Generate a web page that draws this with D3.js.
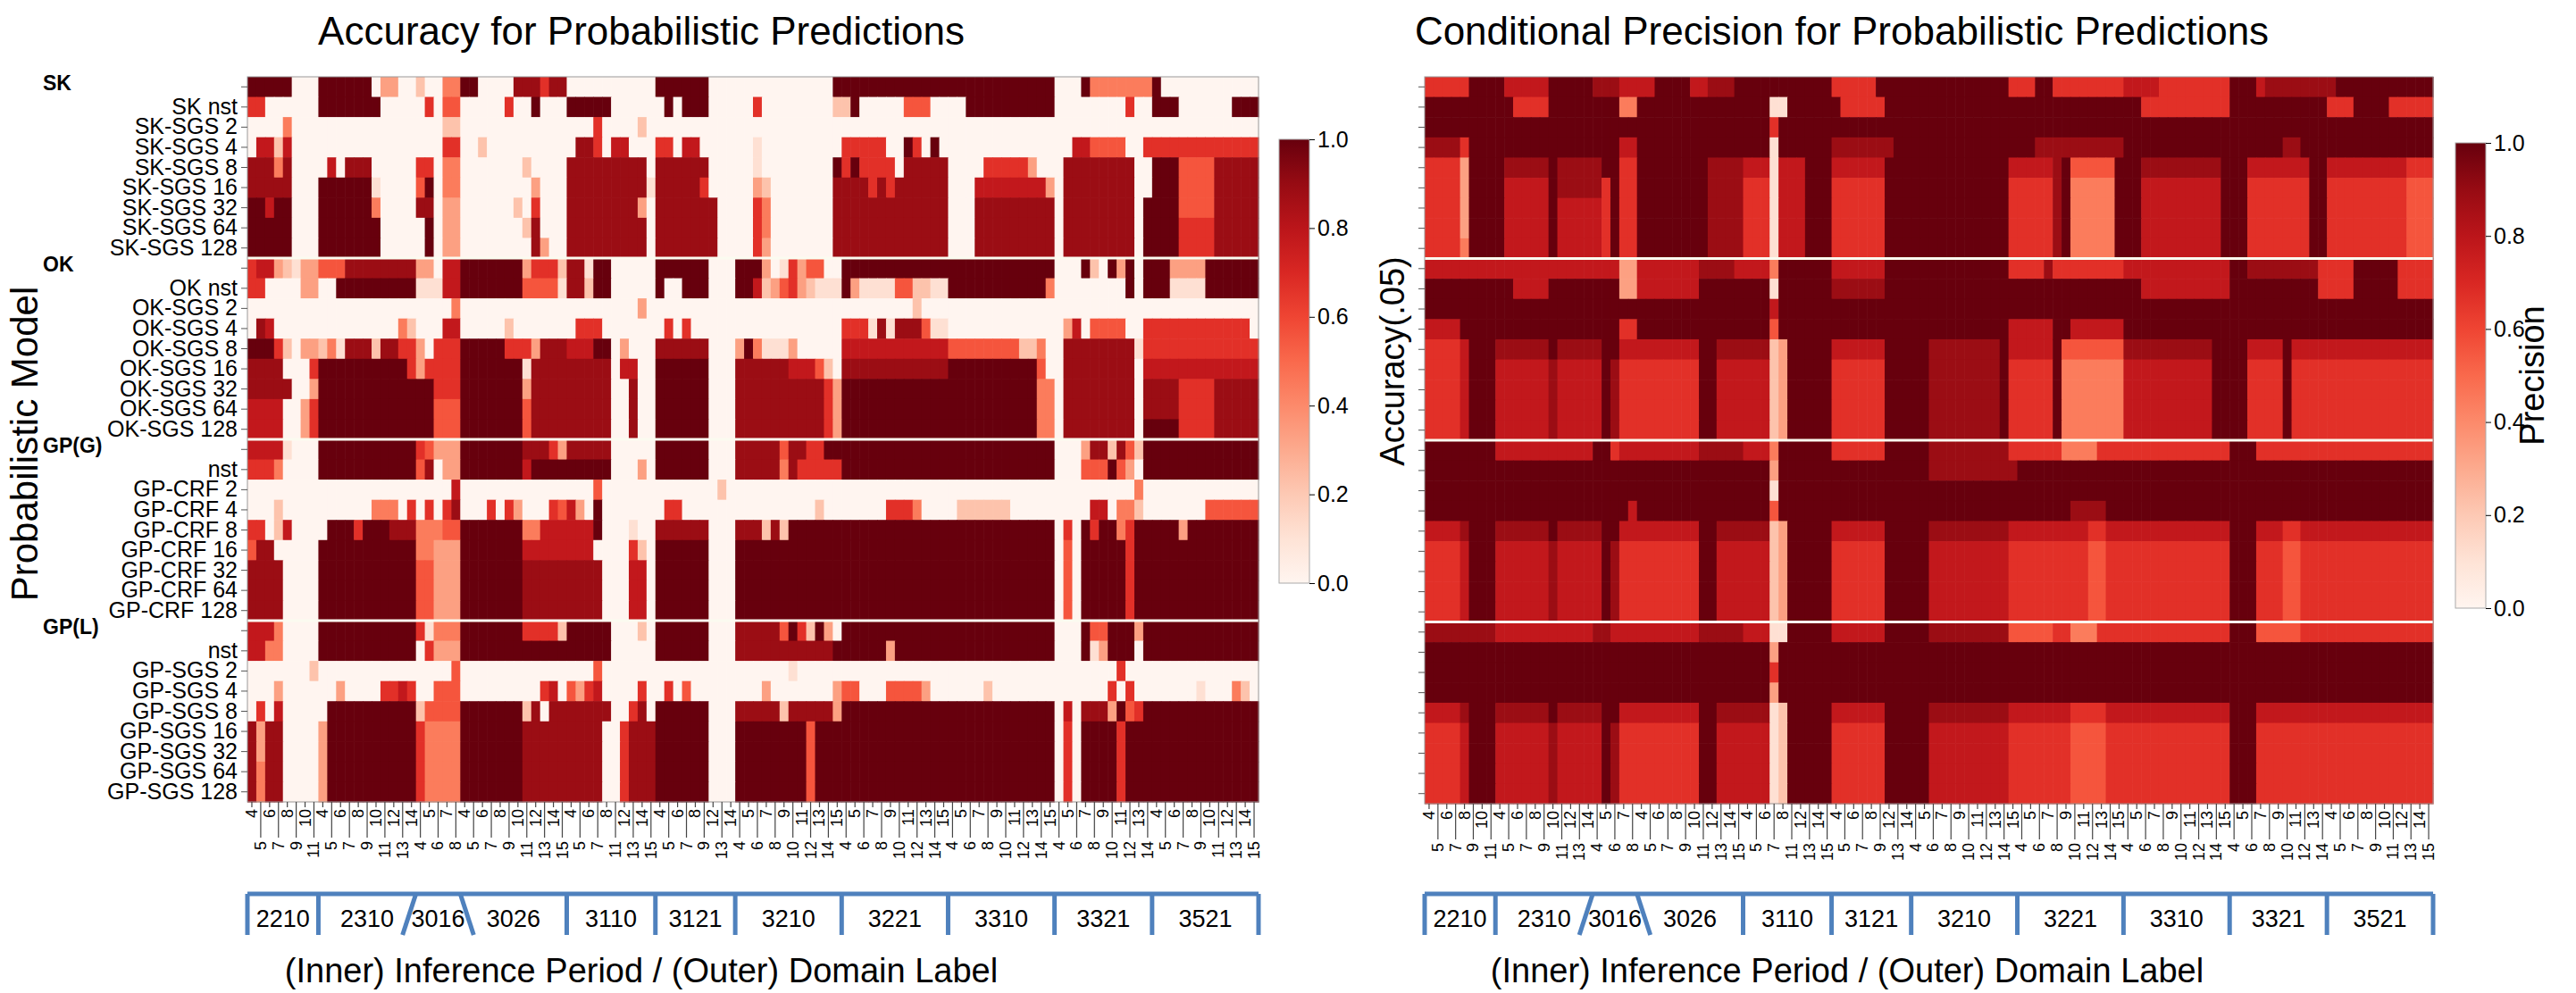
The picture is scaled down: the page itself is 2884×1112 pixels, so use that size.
<!DOCTYPE html>
<html><head><meta charset="utf-8">
<script src="https://cdn.jsdelivr.net/npm/d3@7"></script>
<style>body{margin:0;background:#fff}text{font-family:"Liberation Sans",Arial,sans-serif}</style>
</head><body><svg id="c" width="2884" height="1112"></svg>
<script>
// ---- data ----
const domains = ["2210","2310","3016","3026","3110","3121","3210","3221","3310","3321","3521"];
const periods = [
 [4,5,6,7,8,9,10,11],
 [4,5,6,7,8,9,10,11,12,13,14],
 [4,5,6,7,8],
 [4,5,6,7,8,9,10,11,12,13,14,15],
 [4,5,6,7,8,11,12,13,14,15],
 [4,5,6,7,8,9,12,13,14],
 [4,5,6,7,8,9,10,11,12,13,14,15],
 [4,5,6,7,8,9,10,11,12,13,14,15],
 [4,5,6,7,8,9,10,11,12,13,14,15],
 [4,5,6,7,8,9,10,11,12,13,14],
 [4,5,6,7,8,9,10,11,12,13,14,15]
];
const groups = ["SK","OK","GP(G)","GP(L)"];
const rowLabels = [
 "","SK nst","SK-SGS 2","SK-SGS 4","SK-SGS 8","SK-SGS 16","SK-SGS 32","SK-SGS 64","SK-SGS 128",
 "","OK nst","OK-SGS 2","OK-SGS 4","OK-SGS 8","OK-SGS 16","OK-SGS 32","OK-SGS 64","OK-SGS 128",
 "","nst","GP-CRF 2","GP-CRF 4","GP-CRF 8","GP-CRF 16","GP-CRF 32","GP-CRF 64","GP-CRF 128",
 "","nst","GP-SGS 2","GP-SGS 4","GP-SGS 8","GP-SGS 16","GP-SGS 32","GP-SGS 64","GP-SGS 128"
];
const colorTicks = [0,0.2,0.4,0.6,0.8,1.0];
// accuracy rows: runs "col-col:level" (level 0..9 -> 0..1), default 0
const accuracyRuns = [
 "0-4:9 8-13:9 15-16:3 19:2 22-23:4 24-25:9 30-35:8 33:6 46-51:9 66-90:9 94:9 95-101:4 102:9",
 "0-1:6 8-14:9 20:6 22-23:5 29:6 32:9 36-40:9 47:9 49-51:9 57:6 66-67:2 68:9 74-76:5 81-90:9 99:6 102-104:9 111-113:9",
 "4:4 22-23:2 39:6 44:2",
 "1-2:7 3:2 4:7 22-23:6 26:2 37-38:8 39:6 41-42:7 46-47:6 49-50:7 57:1 67-71:6 74:9 75:6 77:9 93-94:7 95-98:5 101-113:6",
 "0-4:8 3:4 9:7 11-13:8 19-20:6 22-23:4 31:2 36-44:8 46-51:8 57:1 66:9 67:6 68:9 69-72:6 74-78:8 83-87:6 88:3 92-99:8 102-104:9 105-108:5 109-113:8",
 "0-4:8 8-13:9 14:1 19:5 20:9 22-23:4 32:3 36-44:8 45:1 46-50:8 51:6 57:3 58:2 66-78:8 70:6 72:6 82-89:7 90:3 92-99:8 102-104:9 105-108:5 109-113:8",
 "0-4:9 2:7 8-13:9 14:4 19-20:8 22-23:3 30:2 32:6 36-43:8 44:3 46-52:8 57:6 58:4 66-78:8 82-90:8 92-99:8 101-104:9 105-108:5 109-113:8",
 "0-4:9 8-14:9 20:9 22-23:3 31:2 32:8 36-44:8 46-52:8 57:6 58:4 66-78:8 82-90:8 92-99:8 101-104:9 105-108:6 109-113:8",
 "0-4:9 8-14:9 20:9 22-23:3 32:8 33:3 36-44:8 46-52:8 57:6 58:3 66-78:8 82-90:8 92-99:8 101-104:9 105-108:6 109-113:8",
 "0:6 1-2:7 3:3 4:2 5:1 6-7:3 8-10:5 11-18:8 19-20:3 22-23:7 24-30:9 31:3 32-34:6 35:2 36-37:8 38:1 39-40:9 46-51:9 55-57:9 58:3 60:1 61:6 62:3 63-64:5 67-90:9 94:9 95:2 97:9 98:3 99:9 101-103:9 104-107:3 108-113:9",
 "0-1:6 6-7:3 10-18:9 19-21:1 22-23:7 24-30:9 31-34:5 35:1 36-37:8 38:2 39-40:9 46:9 49-51:9 55-56:9 57:7 58:2 59:3 60:5 61:6 62:3 63:2 64-66:1 67:9 68:3 69-72:1 73-74:5 75-76:2 77-78:1 79-89:9 90:4 99:9 101-103:9 104-107:1 108-113:9",
 "23:4 44:3 75:2",
 "1:8 2:7 17:4 18:2 22-23:7 29:2 37-39:6 47:6 49:6 67-69:6 70:1 71:8 72:1 73-75:8 76:5 77-78:1 92:3 93:7 95-98:5 101-112:6",
 "0-2:9 3:6 4:2 6-7:3 8:2 9:4 10:1 11-13:8 14:2 15-16:8 17-18:6 19:3 21-23:6 24-28:9 29-31:6 32:3 33-35:8 36-38:7 39-40:9 42:3 46-51:8 55:3 56:9 57:4 58-60:1 61:3 67-78:7 79-86:5 87-88:2 89:4 92-99:8 100:1 101-113:6",
 "0-3:8 7:6 8-17:9 18:6 19:3 20-23:6 24-30:9 31:1 32-40:8 42-43:7 46-51:9 55-60:8 61-63:7 64:5 65:2 67-78:8 79-88:9 89:5 92-99:8 101-113:7",
 "0-4:8 7:3 8-20:9 21-23:6 24-30:9 31:3 32-40:8 43:8 46-51:9 55-64:8 65:6 66:3 67-88:9 89-90:4 92-99:8 101-104:8 105-108:6 109-113:8",
 "0-3:7 6:3 7:6 8-20:9 21-23:5 24-30:9 31:5 32-40:8 43:8 46-51:9 55-64:8 65:6 66:3 67-88:9 89-90:4 92-99:8 101-104:8 105-108:6 109-113:8",
 "0-3:7 6:3 7:6 8-20:9 21-23:5 24-30:9 31:5 32-40:8 43:8 46-51:9 55-64:8 65:6 66:3 67-88:9 89-90:4 92-99:8 101-104:9 105-108:6 109-113:8",
 "0-3:7 4:1 8-18:9 19:6 20:5 21-23:3 24-30:9 31-33:8 34:6 35:3 36-40:8 46-51:9 55-59:8 60:5 61-62:8 63-64:6 65-90:9 94:3 95-96:8 97:2 98:8 99:5 100:2 101-113:9",
 "0-2:6 3:4 8-18:9 19:5 20:8 22-23:3 24-40:9 31:7 44:3 46-51:9 55-59:8 60:4 61:8 62-66:6 67-90:9 94-96:5 97:9 98:5 99:3 101-113:9",
 "23:7 39:5 53:2 100:4",
 "3:2 14-16:4 18:6 20:6 22:6 23:8 27:6 29:6 30:3 34:6 35:5 36:7 37:3 39:9 47-48:6 64:2 72-74:6 75:4 80-85:2 95-96:7 98-99:4 100:2 108-113:5",
 "0-1:6 3:2 4:7 9-15:9 12:6 16-18:8 19-21:4 22-23:5 24-30:9 31-32:4 33-38:7 39:9 43:1 46-51:8 55-57:8 58:2 59:8 60:2 61-90:9 92:6 94:9 95:6 96-97:9 98:4 99:6 100-113:9 105:3",
 "0:5 1-2:8 8-18:9 19-20:4 21-23:3 24-30:9 31-38:7 43:6 44:2 46-51:9 55-90:9 92:5 94-113:9 99:6",
 "0-3:8 8-18:9 19-20:5 21-23:3 24-30:9 31-39:8 43-44:7 46-51:9 55-90:9 92:5 94-113:9 99:6",
 "0-3:8 8-18:9 19-20:5 21-23:3 24-30:9 31-39:8 43-44:7 46-51:9 55-90:9 92:5 94-113:9 99:6",
 "0-3:8 8-18:9 19-20:5 21-23:3 24-30:9 31-39:8 43-44:7 46-51:9 55-90:9 92:5 94-113:9 99:6",
 "0-2:7 3:4 8-18:9 19:6 20:1 21-23:4 24-30:9 31-34:6 35:2 36-40:9 44:2 46-51:9 55-59:8 60:5 61:9 62:6 63:2 64:9 65:3 67-90:9 94:9 95-96:5 97-99:9 100:3 101-113:9",
 "0-1:7 2-3:4 8-18:9 20:6 21-23:3 24-40:9 46-51:9 55-65:8 66-71:9 72:3 73-90:9 94:9 95:1 96:3 97-99:9 101-113:9",
 "7:2 23:5 39:5 61:1 98:6",
 "3:3 10:3 15-16:6 17:7 18:6 21-23:5 33:6 34:7 36:5 37:3 38:6 39:7 44:6 47:6 49:5 58:3 66:3 67-68:5 72-75:5 76:3 83:2 97:6 99:6 107:1 111:4 112:2",
 "1:6 3:7 9-18:9 19:2 20-23:5 24-30:9 31:2 32:8 34-40:8 43:6 44:8 46-51:9 55-59:8 60:2 61-65:8 66:3 67-90:9 92:7 94-96:8 97:3 98:9 99:5 100:6 101-113:9",
 "0-3:8 1:3 8:3 9-18:9 19:6 20-23:4 24-30:9 31-39:8 42:6 43-45:8 46-51:9 55-90:9 63:5 92:6 94-113:9 98:6",
 "0-3:8 1:3 8:3 9-18:9 19:6 20-23:4 24-30:9 31-39:8 42:6 43-45:8 46-51:9 55-90:9 63:5 92:6 94-113:9 98:6",
 "0-3:8 1:4 8:3 9-18:9 19:6 20-23:4 24-30:9 31-39:8 42:6 43-45:8 46-51:9 55-90:9 63:5 92:6 94-113:9 98:6",
 "0-3:8 1:4 8:3 9-18:9 19:6 20-23:4 24-30:9 31-39:8 42:6 43-45:8 46-51:9 55-90:9 63:5 92:6 94-113:9 98:6"
];
// precision rows: default 9
const precisionRuns = [
 "0-4:6 9-13:7 19-21:8 22-25:7 30-31:7 32-34:8 46-50:6 66-68:6 71-78:6 79-82:7 83-90:6 94:7 95-102:8",
 "10-13:6 22-23:4 39-40:1 47-51:6 81-90:6 102-104:6 109-113:6",
 "39:6",
 "0-3:8 4:6 22-23:7 39:1 46-52:8 69-78:8 97-98:8",
 "0-3:6 4:3 9-13:8 15-19:8 22-23:6 32-35:8 36-38:7 39:1 40-42:7 46-51:7 66-70:7 71:8 73-77:5 81-89:8 93-99:7 102-110:7 111-113:6",
 "0-3:6 4:3 9-13:7 15-19:8 20:6 22-23:6 32-35:8 36-38:6 39:1 40-42:7 46-51:6 66-70:6 71:8 73-77:4 81-89:7 93-99:6 102-110:6 111-113:5",
 "0-3:6 4:3 9-13:7 15-19:7 20:6 22-23:6 32-35:8 36-38:6 39:1 40-42:7 46-51:6 66-70:6 71:8 73-77:4 81-89:7 93-99:6 102-110:6 111-113:5",
 "0-3:6 4:3 9-13:7 15-19:7 20:6 22-23:6 32-35:8 36-38:6 39:1 40-42:7 46-51:6 66-70:6 71:8 73-77:4 81-89:7 93-99:6 102-110:6 111-113:5",
 "0-3:6 4:4 9-13:7 15-19:7 20:6 22-23:6 32-35:8 36-38:6 39:1 40-42:7 46-51:6 66-70:6 71:8 73-77:4 81-89:7 93-99:6 102-110:6 111-113:5",
 "0-21:7 22-23:3 24-30:7 31-34:8 35-38:7 39:4 46-51:7 66-69:6 70:8 71-78:6 79-90:7 93-100:8 101-104:6 110-113:6",
 "10-13:7 22-23:3 24-30:7 39:1 46-51:8 81-90:7 101-104:6 110-113:6",
 "39:7",
 "0-3:7 22-23:6 39:5 66-70:7 73-78:7",
 "0-3:6 4:7 8-13:8 15-19:8 22-30:7 33-38:8 39:2 40:3 46-51:7 57-64:8 66-70:7 72-78:5 79-88:8 93-96:7 98-113:7",
 "0-3:6 4:7 8-13:7 14:8 15-19:7 21:8 22-30:6 33-38:7 39:2 40:3 46-51:6 57-64:8 66-70:6 72-78:4 79-88:7 93-96:6 98-113:6",
 "0-3:6 4:7 8-13:7 14:8 15-19:7 21:8 22-30:6 33-38:7 39:2 40:3 46-51:6 57-64:8 66-70:6 72-78:4 79-88:7 93-96:6 98-113:6",
 "0-3:6 4:7 8-13:7 14:8 15-19:7 21:8 22-30:6 33-38:7 39:2 40:3 46-51:6 57-64:8 66-70:6 72-78:4 79-88:7 93-96:6 98-113:6",
 "0-3:6 4:7 8-13:7 14:8 15-19:7 21:8 22-30:6 33-38:7 39:2 40:3 46-51:6 57-64:8 66-70:6 72-78:4 79-88:7 93-96:6 98-113:6",
 "8-18:7 21:6 22-30:7 31-35:8 36-38:7 39:4 46-51:6 57-65:8 66-78:6 72-75:4 79-90:6 94-113:6",
 "39:3 57-66:8",
 "39:1",
 "23:7 39:5 73-76:8",
 "0-3:7 4:8 8-13:8 15-19:8 22-30:7 33-38:8 39:2 40:3 46-51:7 57-65:8 66-90:7 75-76:6 94-113:7 97-98:6",
 "0-3:6 4:7 8-13:7 14:8 15-19:7 21:8 22-30:6 33-38:7 39:2 40:3 46-51:6 57-65:7 66-90:6 75-76:5 94-113:6 97-98:5",
 "0-3:6 4:7 8-13:7 14:8 15-19:7 21:8 22-30:6 33-38:7 39:2 40:3 46-51:6 57-65:7 66-90:6 75-76:5 94-113:6 97-98:5",
 "0-3:6 4:7 8-13:7 14:8 15-19:7 21:8 22-30:6 33-38:7 39:2 40:3 46-51:6 57-65:7 66-90:6 75-76:5 94-113:6 97-98:5",
 "0-3:6 4:7 8-13:7 14:8 15-19:7 21:8 22-30:6 33-38:7 39:2 40:3 46-51:6 57-65:7 66-90:6 75-76:5 94-113:6 97-98:5",
 "0-7:8 8-18:7 19-20:8 21-30:7 31-35:8 36-38:7 39-40:1 46-51:7 57-65:8 66-70:5 71-78:6 73-75:4 79-90:6 94-98:5 99-113:6",
 "39:3",
 "39:6",
 "39:3",
 "0-3:7 4:8 8-13:8 15-19:8 22-30:7 33-38:8 39:1 40:2 46-51:7 57-65:8 66-90:7 73-76:6 94-113:7",
 "0-3:6 4:7 8-13:7 14:8 15-19:7 21:8 22-30:6 33-38:7 39:1 40:2 46-51:6 57-65:7 66-90:6 73-76:5 94-113:6",
 "0-3:6 4:7 8-13:7 14:8 15-19:7 21:8 22-30:6 33-38:7 39:1 40:2 46-51:6 57-65:7 66-90:6 73-76:5 94-113:6",
 "0-3:6 4:7 8-13:7 14:8 15-19:7 21:8 22-30:6 33-38:7 39:1 40:2 46-51:6 57-65:7 66-90:6 73-76:5 94-113:6",
 "0-3:6 4:7 8-13:7 14:8 15-19:7 21:8 22-30:6 33-38:7 39:1 40:2 46-51:6 57-65:7 66-90:6 73-76:5 94-113:6"
];

// ---- build ----
const cols = [];
domains.forEach((d,i)=>periods[i].forEach(p=>cols.push({d,p,di:i})));
const N = cols.length;
function parse(runs, def){
  return runs.map(s=>{
    const a = new Array(N).fill(def);
    s.trim().split(/\s+/).filter(Boolean).forEach(t=>{
      const [r,v]=t.split(":"); const [a0,b0]=r.split("-"); const lo=+a0, hi=b0===undefined?lo:+b0;
      for(let c=lo;c<=hi&&c<N;c++) a[c]=+v/9;
    });
    return a;
  });
}
const acc = parse(accuracyRuns,0), prec = parse(precisionRuns,1);
const svg = d3.select("#c");
const color = d3.scaleSequential(d3.interpolateReds).domain([0,1]);
const rows = d3.range(36);

function panel(opt){
  const {x0,x1,y0,y1,data,labels} = opt;
  const x = d3.scaleBand().domain(d3.range(N)).range([x0,x1]);
  const y = d3.scaleBand().domain(rows).range([y0,y1]);
  const g = svg.append("g");
  data.forEach((row,r)=>g.selectAll(null).data(row).join("rect")
    .attr("x",(v,c)=>x(c)).attr("y",y(r)).attr("width",x.bandwidth()+0.6).attr("height",y.bandwidth()+0.6)
    .attr("fill",v=>color(v)));
  [9,18,27].forEach(r=>g.append("line").attr("x1",x0).attr("x2",x1).attr("y1",y(r)).attr("y2",y(r))
    .attr("stroke","#fbfbf0").attr("stroke-width",3));
  g.append("rect").attr("x",x0).attr("y",y0).attr("width",x1-x0).attr("height",y1-y0)
    .attr("fill","none").attr("stroke","#999").attr("stroke-width",1);
  const ya = svg.append("g").attr("transform",`translate(${x0},0)`)
    .call(d3.axisLeft(y).tickSize(7).tickFormat(r=>labels?rowLabels[r]:""));
  ya.select(".domain").remove();
  ya.selectAll("line").attr("stroke","#555");
  ya.selectAll("text").attr("font-size",25).attr("fill","#000").attr("dx",-1);
  if(labels){
    groups.forEach((gname,i)=>svg.append("text").attr("x",48).attr("y",y(i*9)+y.bandwidth()/2+4)
      .attr("font-size",23).attr("font-weight","bold").text(gname));
  }
  const xa = svg.append("g");
  cols.forEach((c,i)=>{
    const cx = x(i)+x.bandwidth()/2;
    xa.append("line").attr("x1",cx).attr("x2",cx).attr("y1",y1).attr("y2",y1+(i%2? 40:6)).attr("stroke","#444").attr("stroke-width",1.2);
    xa.append("text").attr("transform",`translate(${cx+6},${y1+(i%2?44:8)}) rotate(-90)`)
      .attr("text-anchor","end").attr("font-size",18).text(c.p);
  });
  const by0=1001, by1=1047;
  const bg = svg.append("g").attr("stroke","#4f81bd").attr("stroke-width",5).attr("fill","none");
  bg.append("line").attr("x1",x0).attr("x2",x1).attr("y1",by0).attr("y2",by0);
  const start = i=>cols.findIndex(c=>c.di===i);
  domains.forEach((d,i)=>{
    const s = start(i), e = s+periods[i].length;
    const xs = x(s), xe = e<N? x(e): x1;
    svg.append("text").attr("x",(xs+xe)/2).attr("y",1038).attr("text-anchor","middle").attr("font-size",27).text(d);
  });
  for(let i=0;i<=domains.length;i++){
    const s = i<domains.length? start(i): N;
    const xb = s<N? x(s): x1;
    let xbot = xb;
    if(i===2) xbot = xb-15; if(i===3) xbot = xb+15;
    bg.append("line").attr("x1",xb).attr("x2",xbot).attr("y1",by0).attr("y2",by1);
  }
}
function colorbar(cx0,cy0,cy1,label,lx){
  const w=34, id="grad"+cx0;
  const grad = svg.append("defs").append("linearGradient").attr("id",id).attr("x1",0).attr("x2",0).attr("y1",1).attr("y2",0);
  d3.range(0,1.01,0.1).forEach(t=>grad.append("stop").attr("offset",t).attr("stop-color",color(t)));
  svg.append("rect").attr("x",cx0).attr("y",cy0).attr("width",w).attr("height",cy1-cy0).attr("fill",`url(#${id})`).attr("stroke","#aaa");
  const s = d3.scaleLinear().domain([0,1]).range([cy1,cy0]);
  const a = svg.append("g").attr("transform",`translate(${cx0+w},0)`).call(d3.axisRight(s).tickValues(colorTicks).tickFormat(d3.format(".1f")).tickSize(6));
  a.select(".domain").remove();
  a.selectAll("text").attr("font-size",25).attr("fill","#000");
  svg.append("text").attr("transform",`translate(${lx},${(cy0+cy1)/2}) rotate(-90)`).attr("text-anchor","middle").attr("font-size",38).text(label);
}

panel({x0:277,x1:1409,y0:86,y1:898,data:acc,labels:true});
panel({x0:1595,x1:2724,y0:86,y1:900,data:prec,labels:false});
colorbar(1432,156,653,"Accuracy(.05)",1572);
colorbar(2749,160,681,"Precision",2848);

svg.append("text").attr("x",718).attr("y",50).attr("text-anchor","middle").attr("font-size",44).text("Accuracy for Probabilistic Predictions");
svg.append("text").attr("x",2062).attr("y",50).attr("text-anchor","middle").attr("font-size",44).text("Conditional Precision for Probabilistic Predictions");
svg.append("text").attr("transform","translate(42,497) rotate(-90)").attr("text-anchor","middle").attr("font-size",42).text("Probabilistic Model");
svg.append("text").attr("x",718).attr("y",1100).attr("text-anchor","middle").attr("font-size",38).text("(Inner) Inference Period / (Outer) Domain Label");
svg.append("text").attr("x",2068).attr("y",1100).attr("text-anchor","middle").attr("font-size",38).text("(Inner) Inference Period / (Outer) Domain Label");
</script></body></html>
